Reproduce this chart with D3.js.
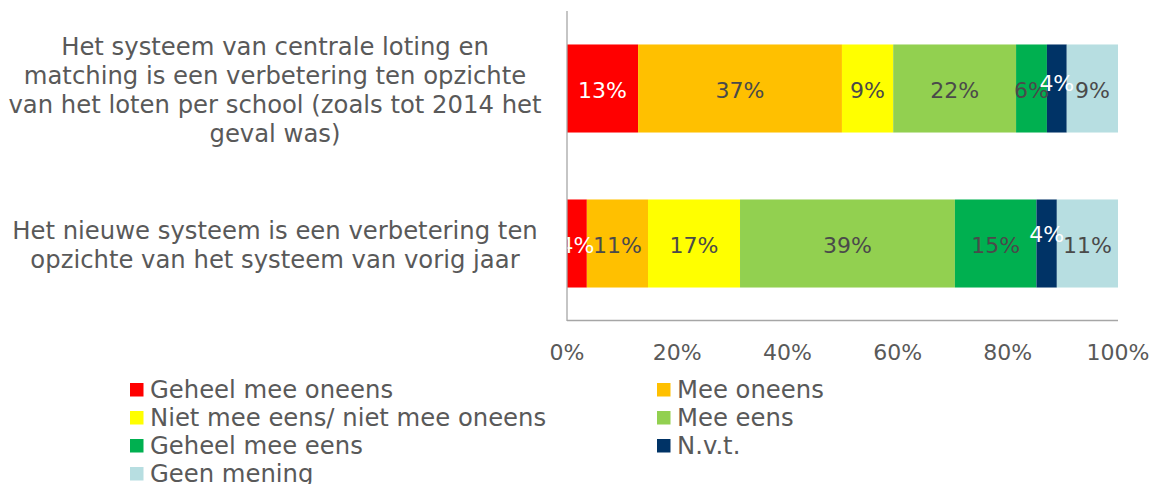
<!DOCTYPE html>
<html><head><meta charset="utf-8">
<script src="https://cdn.jsdelivr.net/npm/d3@7"></script>
<style>
body{margin:0;background:#fff;}
svg{display:block;font-family:"DejaVu Sans",Verdana,sans-serif;}
</style></head>
<body><svg id="chart" width="1159" height="484"></svg>
<script>
// ---- data ----
const categoryLines = [
  ["Het systeem van centrale loting en", "matching is een verbetering ten opzichte", "van het loten per school (zoals tot 2014 het", "geval was)"],
  ["Het nieuwe systeem is een verbetering ten", "opzichte van het systeem van vorig jaar"]
];
const categories = ["q1", "q2"];
const seriesNames = ["Geheel mee oneens", "Mee oneens", "Niet mee eens/ niet mee oneens", "Mee eens", "Geheel mee eens", "N.v.t.", "Geen mening"];
const geheelMeeOneens = [12.9, 3.6];
const meeOneens = [37.0, 11.1];
const nietMeeEensNietMeeOneens = [9.3, 16.7];
const meeEens = [22.3, 39.0];
const geheelMeeEens = [5.6, 14.8];
const nvt = [3.6, 3.7];
const geenMening = [9.3, 11.1];
const tickValues = [0, 20, 40, 60, 80, 100];

// ---- styles ----
const colors = ["#FF0000", "#FFC000", "#FFFF00", "#92D050", "#00B050", "#003366", "#B7DEE1"];
const labelColors = ["#ffffff", "#4a4a4a", "#4a4a4a", "#4a4a4a", "#4a4a4a", "#ffffff", "#4a4a4a"];
const textColor = "#595959";

const seriesValues = [geheelMeeOneens, meeOneens, nietMeeEensNietMeeOneens, meeEens, geheelMeeEens, nvt, geenMening];
const rows = categories.map((c, i) => {
  const r = {cat: c, idx: i};
  seriesNames.forEach((s, j) => r[s] = seriesValues[j][i]);
  return r;
});
const stacked = d3.stack().keys(seriesNames)(rows);

const svg = d3.select("#chart");
const x = d3.scaleLinear().domain([0, 100]).range([567, 1118]);
const y = d3.scaleBand().domain(categories).range([11, 321]).paddingInner(0.432).paddingOuter(0.216);

// bars
const g = svg.append("g");
stacked.forEach((s, j) => {
  g.selectAll(null).data(s).join("rect")
    .attr("x", d => x(d[0]))
    .attr("y", d => y(d.data.cat))
    .attr("width", d => x(d[1]) - x(d[0]))
    .attr("height", y.bandwidth())
    .attr("fill", colors[j]);
});

// axes
svg.append("line").attr("x1", x(0)).attr("x2", x(0)).attr("y1", 11).attr("y2", 321)
  .attr("stroke", "#a6a6a6").attr("stroke-width", 1.3);
svg.append("line").attr("x1", x(0)).attr("x2", x(100)).attr("y1", 320.5).attr("y2", 320.5)
  .attr("stroke", "#a6a6a6").attr("stroke-width", 1.3);

// data labels
const navyShift = [-7, -11];
stacked.forEach((s, j) => {
  g.selectAll(null).data(s).join("text")
    .attr("x", d => (x(d[0]) + x(d[1])) / 2)
    .attr("y", d => y(d.data.cat) + y.bandwidth() / 2 + 2 + (j === 5 ? navyShift[d.data.idx] : 0))
    .attr("dy", "0.36em")
    .attr("text-anchor", "middle")
    .attr("font-size", 22)
    .attr("fill", labelColors[j])
    .text(d => Math.round(d[1] - d[0]) + "%");
});

// x tick labels
svg.selectAll(null).data(tickValues).join("text")
  .attr("x", d => x(d))
  .attr("y", 352)
  .attr("dy", "0.36em")
  .attr("text-anchor", "middle")
  .attr("font-size", 22)
  .attr("fill", textColor)
  .text(d => d + "%");

// category labels
categories.forEach((c, i) => {
  const lines = categoryLines[i];
  const cy = y(c) + y.bandwidth() / 2 + 1.5;
  const lh = 29;
  const t = svg.append("text").attr("text-anchor", "middle").attr("font-size", 24.3).attr("fill", textColor);
  lines.forEach((ln, k) => {
    t.append("tspan").attr("x", 275)
      .attr("y", cy + (k - (lines.length - 1) / 2) * lh)
      .attr("dy", "0.36em").text(ln);
  });
});

// legend
const legCols = [130, 657];
seriesNames.forEach((s, j) => {
  const col = j % 2, row = Math.floor(j / 2);
  const lx = legCols[col], ly = 389.5 + row * 28;
  svg.append("rect").attr("x", lx).attr("y", ly - 6.5).attr("width", 13.5).attr("height", 13.5).attr("fill", colors[j]);
  svg.append("text").attr("x", lx + 20).attr("y", ly).attr("dy", "0.36em")
    .attr("font-size", 24.3).attr("fill", textColor).text(s);
});
</script>
</body></html>
